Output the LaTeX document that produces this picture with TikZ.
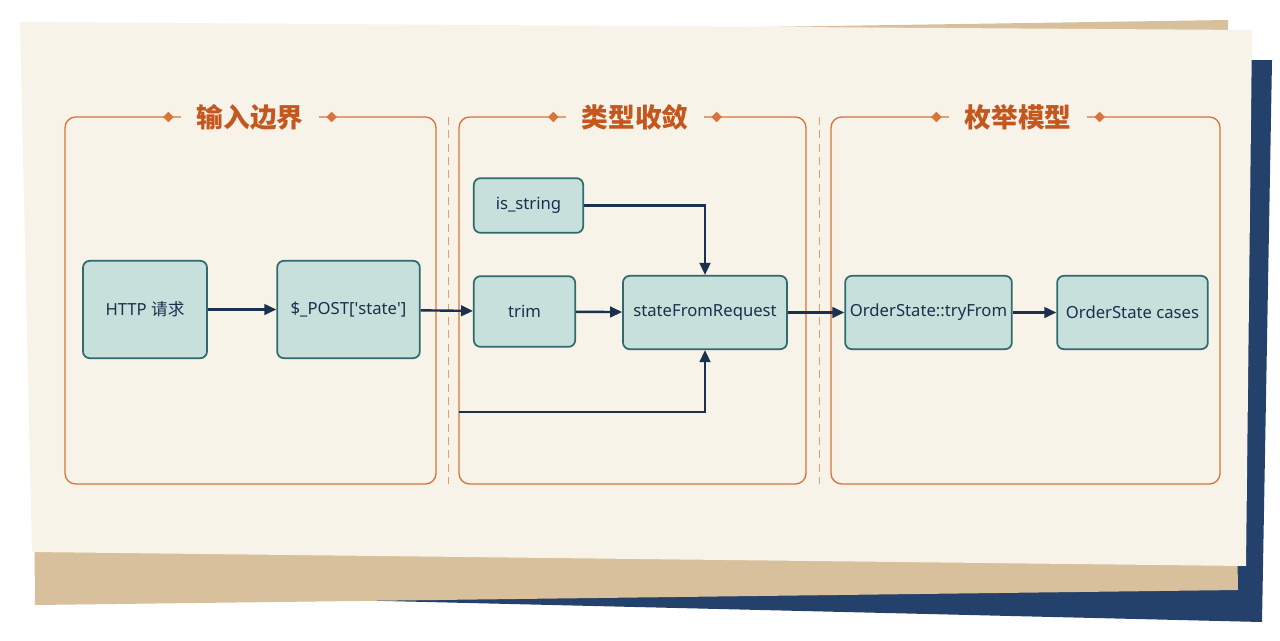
\documentclass[tikz,border=0pt]{standalone}
\usepackage{fontspec}
\setmainfont{Noto Sans}
\newfontfamily\cjk{Noto Sans CJK SC}
\usetikzlibrary{arrows.meta,shapes.geometric}
\definecolor{cream}{HTML}{F7F3E8}
\definecolor{tan}{HTML}{D8C09C}
\definecolor{navyp}{HTML}{23416B}
\definecolor{orng}{HTML}{D9733A}
\definecolor{ttl}{HTML}{C4571E}
\definecolor{boxf}{HTML}{C7E0DC}
\definecolor{boxd}{HTML}{2F6B6E}
\definecolor{arr}{HTML}{1B2F4F}
\tikzset{
 box/.style={draw=boxd,line width=1.3pt,fill=boxf,rounded corners=5pt,font=\fontsize{12.5}{15}\selectfont,text=arr,align=center,inner xsep=2pt},
 sec/.style={draw=orng,line width=1pt,rounded corners=8pt},
 ttlt/.style={fill=cream,text=ttl,font=\cjk\bfseries\fontsize{20}{22}\selectfont,inner xsep=12pt},
 dia/.style={fill=orng,diamond,inner sep=2pt},
 ar/.style={draw=arr,line width=1.8pt,-{Triangle[length=9pt,width=8pt]}},
 dv/.style={draw=orng!70,dash pattern=on 6pt off 4pt,line width=0.6pt}
}
\begin{document}
\begin{tikzpicture}[x=0.75pt,y=-0.75pt]
\useasboundingbox (0,0) rectangle (1280,640);
\fill[white] (0,0) rectangle (1280,640);
% papers
\fill[navyp] (250,70) -- (1272,60) -- (1262,622) -- (260,598) -- cycle;
\fill[tan] (30,38) -- (1228,20) -- (1238,590) -- (35,605) -- cycle;
\fill[cream] (20,22) -- (1252,30) -- (1246,566) -- (32,552) -- cycle;
% sections
\draw[sec] (65,117) rectangle (436,484);
\draw[sec] (459,117) rectangle (806,484);
\draw[sec] (831,117) rectangle (1220,484);
\draw[dv] (448,117) -- (448,484);
\draw[dv] (819,117) -- (819,484);
\node[ttlt] (t1) at (250,117) {输入边界};
\node[ttlt] (t2) at (635,117) {类型收敛};
\node[ttlt] (t3) at (1018,117) {枚举模型};
\foreach \t in {t1,t2,t3}{
 \node[dia] at ([xshift=-9pt]\t.west) {};
 \node[dia] at ([xshift=9pt]\t.east) {};}
% nodes
\node[box,minimum width=93pt,minimum height=73pt] (http) at (145,309.5) {HTTP {\cjk 请求}};
\node[box,minimum width=107pt,minimum height=73pt] (post) at (348.5,309.5) {\$\_POST[\textquotesingle state\textquotesingle]};
\node[box,minimum width=82pt,minimum height=41pt] (iss) at (528.5,205.5) {is\_string};
\node[box,minimum width=76pt,minimum height=53pt] (trim) at (524.5,311.5) {trim};
\node[box,minimum width=123pt,minimum height=55pt] (sfr) at (705,312.5) {stateFromRequest};
\node[box,minimum width=125pt,minimum height=55pt] (otf) at (928.5,312.5) {OrderState::tryFrom};
\node[box,minimum width=113pt,minimum height=55pt] (oc) at (1132.5,312.5) {OrderState cases};
\coordinate (free) at (459,412);
% arrows
\draw[ar] (http) -- (post);
\draw[ar] (post) -- (trim);
\draw[ar] (trim) -- (sfr);
\draw[ar] (iss.east) -| (sfr.north);
\draw[ar] (free) -| (sfr.south);
\draw[ar] (sfr) -- (otf);
\draw[ar] (otf) -- (oc);
\end{tikzpicture}
\end{document}
